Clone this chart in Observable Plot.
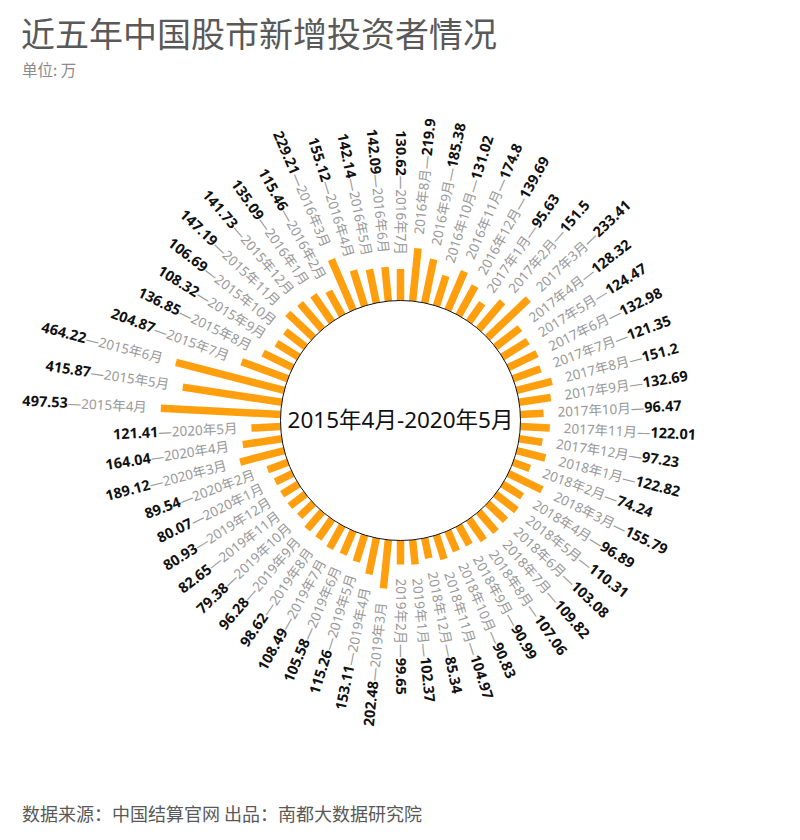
<!DOCTYPE html>
<html>
<head>
<meta charset="utf-8">
<script src="https://cdn.jsdelivr.net/npm/d3@7"></script>
<script src="https://cdn.jsdelivr.net/npm/@observablehq/plot@0.6"></script>
<style>
  html, body { margin: 0; padding: 0; background: #fff; }
  #wrap { position: relative; width: 800px; height: 840px; font-family: "Noto Sans", "Noto Sans CJK SC", sans-serif; }
  #title { position: absolute; left: 21px; top: 13px; font-size: 34px; line-height: 40px; color: #595959; font-family: "Noto Sans CJK SC", sans-serif; white-space: nowrap; }
  #sub { position: absolute; left: 22px; top: 59px; font-size: 15.5px; line-height: 20px; color: #8a8a8a; font-family: "Noto Sans CJK SC", sans-serif; }
  #chart { position: absolute; left: 0; top: 80px; }
  #foot { position: absolute; left: 22px; top: 800px; font-size: 18px; line-height: 26px; color: #595959; font-family: "Noto Sans CJK SC", sans-serif; white-space: nowrap; }
</style>
</head>
<body>
<div id="wrap">
  <div id="title">近五年中国股市新增投资者情况</div>
  <div id="sub">单位: 万</div>
  <div id="chart"></div>
  <div id="foot">数据来源：中国结算官网 出品：南都大数据研究院</div>
</div>
<script>
// ---- data ----
const months = [
  "2015年4月","2015年5月","2015年6月","2015年7月","2015年8月","2015年9月","2015年10月","2015年11月","2015年12月",
  "2016年1月","2016年2月","2016年3月","2016年4月","2016年5月","2016年6月","2016年7月","2016年8月","2016年9月","2016年10月","2016年11月","2016年12月",
  "2017年1月","2017年2月","2017年3月","2017年4月","2017年5月","2017年6月","2017年7月","2017年8月","2017年9月","2017年10月","2017年11月","2017年12月",
  "2018年1月","2018年2月","2018年3月","2018年4月","2018年5月","2018年6月","2018年7月","2018年8月","2018年9月","2018年10月","2018年11月","2018年12月",
  "2019年1月","2019年2月","2019年3月","2019年4月","2019年5月","2019年6月","2019年7月","2019年8月","2019年9月","2019年10月","2019年11月","2019年12月",
  "2020年1月","2020年2月","2020年3月","2020年4月","2020年5月"
];
const newInvestors = [
  497.53, 415.87, 464.22, 204.87, 136.85, 108.32, 106.69, 147.19, 141.73,
  135.09, 115.46, 229.21, 155.12, 142.14, 142.09, 130.62, 219.9, 185.38, 131.02, 174.8, 139.69,
  95.63, 151.5, 233.41, 128.32, 124.47, 132.98, 121.35, 151.2, 132.69, 96.47, 122.01, 97.23,
  122.82, 74.24, 155.79, 96.89, 110.31, 103.08, 109.82, 107.06, 90.99, 90.83, 104.97, 85.34,
  102.37, 99.65, 202.48, 153.11, 115.26, 105.58, 108.49, 98.62, 96.28, 79.38, 82.65, 80.93,
  80.07, 89.54, 189.12, 164.04, 121.41
];
const centerLabel = months[0] + "-" + months[months.length - 1];

// ---- scales ----
const innerRadius = 120, outerRadius = 240, labelGap = 14;
const width = 800, height = 720, cy = 340;
// angle measured clockwise from the 9 o'clock direction
const angle = d3.scaleBand().domain(months).range([0, 2 * Math.PI]);
const radius = d3.scaleLinear().domain([0, d3.max(newInvestors)]).range([innerRadius, outerRadius]);

const rows = months.map((m, i) => {
  const t = angle(m) + angle.bandwidth() / 2;
  const c = Math.cos(t), s = Math.sin(t);
  const r0 = radius(0), r1 = radius(newInvestors[i]), rl = r1 + labelGap;
  const deg = t * 180 / Math.PI;
  const right = t > Math.PI / 2 + 1e-6 && t <= 3 * Math.PI / 2 + 1e-6;
  return {
    i, month: m, value: newInvestors[i],
    x0: -r0 * c, y0: -r0 * s, x1: -r1 * c, y1: -r1 * s,
    lx: -rl * c, ly: -rl * s,
    rot: right ? deg + 180 : deg,
    right
  };
});
const rightRows = rows.filter(d => d.right);
const leftRows = rows.filter(d => !d.right);

const plot = Plot.plot({
  width, height,
  margin: 0,
  x: { domain: [-width / 2, width / 2], range: [0, width], axis: null },
  y: { domain: [-cy, height - cy], range: [0, height], axis: null },
  style: { fontFamily: '"Noto Sans", "Noto Sans CJK SC", sans-serif', background: "#fff", overflow: "visible" },
  marks: [
    Plot.link(rows, {
      x1: "x0", y1: "y0", x2: "x1", y2: "y1",
      stroke: "#FF9F0D", strokeWidth: 7.5, strokeLinecap: "butt"
    }),
    Plot.dot([0], { x: 0, y: 0, r: radius(0), stroke: "#111", strokeWidth: 1, fill: "none" }),
    Plot.text([centerLabel], { x: 0, y: 0, text: d => d, fontSize: 22.5, fill: "#111" }),
    Plot.text(rightRows, {
      x: "lx", y: "ly", rotate: "rot", text: d => "#" + d.i,
      textAnchor: "start", fontSize: 13.5
    }),
    Plot.text(leftRows, {
      x: "lx", y: "ly", rotate: "rot", text: d => "#" + d.i,
      textAnchor: "end", fontSize: 13.5
    })
  ]
});

// turn each label placeholder into "month—value" with mixed styling
const NS = "http://www.w3.org/2000/svg";
plot.querySelectorAll("text").forEach(t => {
  const m = /^#(\d+)$/.exec(t.textContent.trim());
  if (!m) return;
  const d = rows[+m[1]];
  while (t.firstChild) t.removeChild(t.firstChild);
  const parts = d.right
    ? [[d.month, "m"], ["—", "m"], [String(d.value), "v"]]
    : [[String(d.value), "v"], ["—", "m"], [d.month, "m"]];
  for (const [s, k] of parts) {
    const ts = document.createElementNS(NS, "tspan");
    ts.textContent = s;
    if (k === "m") {
      ts.setAttribute("fill", "#999");
      ts.setAttribute("font-size", "13.5");
    } else {
      ts.setAttribute("fill", "#111");
      ts.setAttribute("font-weight", "bold");
      ts.setAttribute("font-size", "14.5");
    }
    t.appendChild(ts);
  }
});

document.getElementById("chart").appendChild(plot);
</script>
</body>
</html>
